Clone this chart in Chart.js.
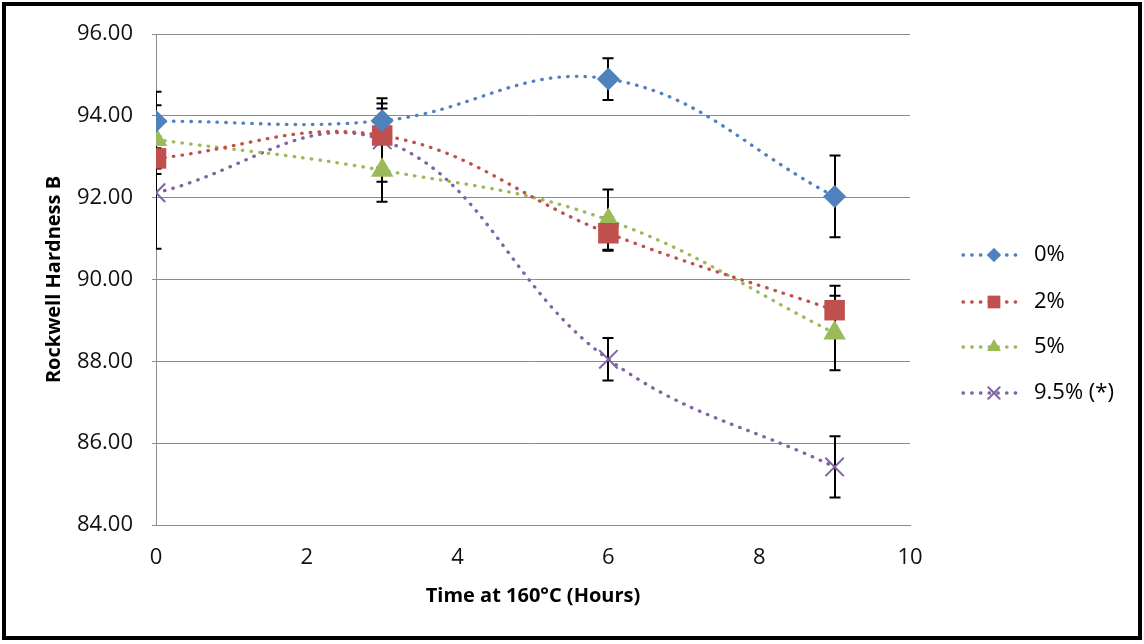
<!DOCTYPE html>
<html>
<head>
<meta charset="utf-8">
<title>Rockwell Hardness vs Time at 160°C</title>
<script src="https://cdn.jsdelivr.net/npm/chart.js@4.4.1/dist/chart.umd.min.js"></script>
<style>
  html, body { margin: 0; padding: 0; background: #fff; }
  #wrap { width: 1144px; height: 644px; }
</style>
</head>
<body>
<div id="wrap"><canvas id="hardnessChart" width="1144" height="644"></canvas></div>
<script>
// ageing time (hours) and measured hardness per additive level
const hours = [0, 3, 6, 9];
const seriesNames = ['0%', '2%', '5%', '9.5% (*)'];
const hardness0 = [93.87, 93.88, 94.90, 92.03];
const hardness2 = [92.96, 93.52, 91.13, 89.25];
const hardness5 = [93.42, 92.67, 91.45, 88.69];
const hardness95 = [92.12, 93.41, 88.05, 85.42];
const error0 = [0.72, 0.30, 0.51, 1.00];
const error2 = [0.25, 0.78, 0.40, 0.60];
const error5 = [0.84, 0.77, 0.75, 0.91];
const error95 = [1.37, 1.02, 0.52, 0.75];
const yTicks = [84, 86, 88, 90, 92, 94, 96];
const xTicks = [0, 2, 4, 6, 8, 10];

const colors = ['#4F81BD', '#C0504D', '#9BBB59', '#8064A2'];
const styles = [
    { pointStyle: 'rectRot', radius: 11.5 },
    { pointStyle: 'rect', radius: 14.5 },
    { pointStyle: 'triangle', radius: 13 },
    { pointStyle: 'crossRot', radius: 13 }
];
const values = [hardness0, hardness2, hardness5, hardness95];
const errors = [error0, error2, error5, error95];
const FONT = "'Open Sans', 'Noto Sans', sans-serif";

const datasets = values.map((vals, i) => ({
    label: seriesNames[i],
    data: hours.map((h, j) => ({ x: h, y: vals[j] })),
    errors: errors[i],
    borderColor: colors[i],
    backgroundColor: colors[i],
    borderWidth: 3.3,
    borderDash: [0.5, 8.2],
    borderCapStyle: 'round',
    tension: 0.4,
    fill: false,
    pointStyle: styles[i].pointStyle,
    pointRadius: styles[i].radius,
    pointHoverRadius: styles[i].radius,
    pointBorderWidth: styles[i].pointStyle === 'crossRot' ? 2 : 0,
    pointBorderColor: colors[i],
    pointBackgroundColor: colors[i]
}));

// error bars, drawn under the markers and clipped to the plot area
const errorBars = {
    id: 'errorBars',
    beforeDatasetsDraw(chart) {
        const { ctx, chartArea: a, scales: { x, y } } = chart;
        ctx.save();
        ctx.beginPath();
        ctx.rect(a.left, a.top - 20, a.right - a.left, a.bottom - a.top + 40);
        ctx.clip();
        ctx.strokeStyle = '#000';
        ctx.lineWidth = 2;
        chart.data.datasets.forEach(ds => {
            ds.data.forEach((p, i) => {
                const e = ds.errors[i];
                const px = Math.round(x.getPixelForValue(p.x));
                const top = y.getPixelForValue(p.y + e);
                const bot = y.getPixelForValue(p.y - e);
                ctx.beginPath();
                ctx.moveTo(px, top); ctx.lineTo(px, bot);
                ctx.moveTo(px - 5.5, top); ctx.lineTo(px + 5.5, top);
                ctx.moveTo(px - 5.5, bot); ctx.lineTo(px + 5.5, bot);
                ctx.stroke();
            });
        });
        ctx.restore();
    }
};

// legend on the right: dotted line sample with marker, then the label
const sideLegend = {
    id: 'sideLegend',
    afterDraw(chart) {
        const { ctx } = chart;
        const rows = [255, 302, 347, 393];
        ctx.save();
        chart.data.datasets.forEach((ds, i) => {
            const yy = rows[i];
            ctx.strokeStyle = ds.borderColor;
            ctx.lineWidth = 3.3;
            ctx.lineCap = 'round';
            ctx.setLineDash([0.5, 8.2]);
            ctx.beginPath();
            ctx.moveTo(963, yy); ctx.lineTo(1023, yy);
            ctx.stroke();
            ctx.setLineDash([]);
            ctx.fillStyle = ds.backgroundColor;
            ctx.lineWidth = ds.pointBorderWidth || 1.5;
            Chart.helpers.drawPoint(ctx, {
                pointStyle: ds.pointStyle,
                radius: ds.pointRadius * 0.62,
                rotation: 0,
                borderWidth: ds.pointBorderWidth
            }, 994, yy);
            ctx.fillStyle = '#000';
            ctx.font = '22px ' + FONT;
            ctx.textBaseline = 'middle';
            ctx.textAlign = 'left';
            ctx.fillText(ds.label, 1034, yy);
        });
        ctx.restore();
    }
};

// outer frame
const frame = {
    id: 'frame',
    afterDraw(chart) {
        const { ctx } = chart;
        ctx.save();
        ctx.strokeStyle = '#000';
        ctx.lineWidth = 4;
        ctx.strokeRect(4, 4, 1136, 634);
        ctx.restore();
    }
};

new Chart(document.getElementById('hardnessChart'), {
    type: 'line',
    data: { datasets: datasets },
    plugins: [errorBars, sideLegend, frame],
    options: {
        responsive: false,
        animation: false,
        devicePixelRatio: 1,
        layout: { padding: { left: 0, top: 34, right: 234, bottom: 0 } },
        plugins: {
            legend: { display: false },
            tooltip: { enabled: false }
        },
        scales: {
            x: {
                type: 'linear',
                min: 0,
                max: 10,
                afterBuildTicks: s => { s.ticks = xTicks.map(v => ({ value: v })); },
                afterFit: s => { s.height = 119; },
                grid: { display: false, drawTicks: false },
                border: { display: true, color: '#8C8C8C', width: 1 },
                ticks: {
                    padding: 20,
                    color: '#111',
                    font: { family: FONT, size: 22 }
                },
                title: {
                    display: true,
                    text: 'Time at 160°C (Hours)',
                    color: '#000',
                    font: { family: FONT, size: 20, weight: 'bold' },
                    padding: { top: 0, bottom: 36 }
                }
            },
            y: {
                min: 84,
                max: 96,
                afterBuildTicks: s => { s.ticks = yTicks.map(v => ({ value: v })); },
                afterFit: s => { s.width = 156; },
                grid: { color: '#8C8C8C', lineWidth: 1, tickLength: 4 },
                border: { display: true, color: '#8C8C8C', width: 1 },
                ticks: {
                    padding: 19,
                    color: '#111',
                    font: { family: FONT, size: 22 },
                    callback: v => v.toFixed(2)
                },
                title: {
                    display: true,
                    text: 'Rockwell Hardness B',
                    color: '#000',
                    font: { family: FONT, size: 20, weight: 'bold' },
                    padding: { top: 42, bottom: 0 }
                }
            }
        }
    }
});
</script>
</body>
</html>
